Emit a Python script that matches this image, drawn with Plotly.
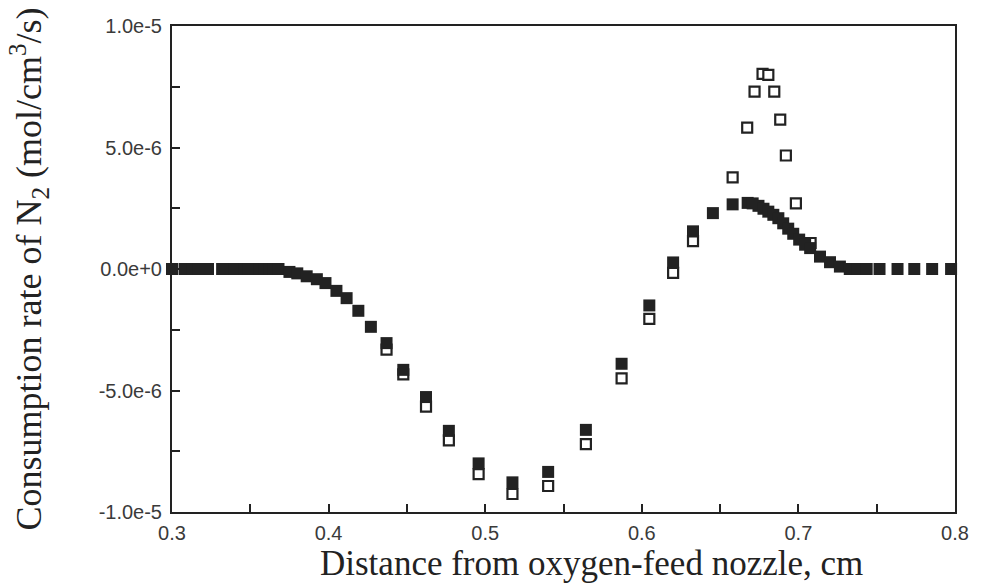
import plotly.graph_objects as go

# Filled squares series
x_filled = [0.300, 0.308, 0.313, 0.317, 0.323, 0.332, 0.336, 0.340, 0.346, 0.349,
            0.353, 0.356, 0.359, 0.362, 0.365, 0.368, 0.375, 0.380, 0.386, 0.3925,
            0.398, 0.405, 0.4115, 0.419, 0.427, 0.437, 0.4477, 0.4622, 0.4768, 0.4958,
            0.5174, 0.5402, 0.5643, 0.5871, 0.6048, 0.620, 0.6327, 0.6454, 0.658, 0.6676,
            0.6708, 0.6745, 0.6777, 0.6808, 0.684, 0.6872, 0.6903, 0.6935, 0.6967, 0.7005,
            0.7043, 0.7075, 0.7138, 0.7202, 0.7265, 0.7328, 0.7379, 0.7436, 0.7518, 0.7633,
            0.774, 0.7854, 0.7975]
y_filled_e6 = [0, 0, 0, 0, 0, 0, 0, 0, 0, 0,
               0, 0, 0, 0, 0, 0, -0.12, -0.18, -0.30, -0.42,
               -0.58, -0.90, -1.20, -1.72, -2.38, -3.05, -4.15, -5.27, -6.66, -8.0,
               -8.78, -8.35, -6.62, -3.9, -1.5, 0.27, 1.55, 2.3, 2.66, 2.72,
               2.70, 2.6, 2.48, 2.36, 2.23, 2.09, 1.88, 1.66, 1.45, 1.21,
               1.0, 0.86, 0.51, 0.28, 0.1, 0, 0, 0, 0, 0,
               0, 0, 0]

# Open squares series
x_open = [0.437, 0.4477, 0.4622, 0.4768, 0.4958, 0.5174, 0.5402, 0.5643, 0.5871, 0.6048,
          0.620, 0.6327, 0.658, 0.6673, 0.672, 0.6771, 0.6808, 0.6846, 0.6884, 0.692,
          0.6984, 0.7078]
y_open_e6 = [-3.32, -4.34, -5.66, -7.05, -8.44, -9.26, -8.93, -7.21, -4.5, -2.05,
             -0.16, 1.15, 3.77, 5.82, 7.3, 8.03, 7.99, 7.3, 6.15, 4.67,
             2.7, 1.07]

y_tickvals = [1.0e-5, 5.0e-6, 0.0, -5.0e-6, -1.0e-5]
y_ticktext = ["1.0e-5", "5.0e-6", "0.0e+0", "-5.0e-6", "-1.0e-5"]
x_tickvals = [0.3, 0.4, 0.5, 0.6, 0.7, 0.8]
x_ticktext = ["0.3", "0.4", "0.5", "0.6", "0.7", "0.8"]

x_title = "Distance from oxygen-feed nozzle, cm"
y_title = "Consumption rate of N<sub>2</sub> (mol/cm<sup>3</sup>/s)"

y_filled = [v * 1e-6 for v in y_filled_e6]
y_open = [v * 1e-6 for v in y_open_e6]

fig = go.Figure()
fig.add_trace(go.Scatter(
    x=x_open, y=y_open, mode="markers",
    marker=dict(symbol="square", size=10, color="white",
                line=dict(color="#222222", width=2.2)),
    showlegend=False, cliponaxis=False))
fig.add_trace(go.Scatter(
    x=x_filled, y=y_filled, mode="markers",
    marker=dict(symbol="square", size=12, color="#222222",
                line=dict(width=0)),
    showlegend=False, cliponaxis=False))

tickfont = dict(family="Liberation Sans, Arial, sans-serif", size=20, color="#3a3a3a")
titlefont = dict(family="Liberation Serif, Times New Roman, serif", size=36, color="#222222")
xtitlefont = dict(family="Liberation Serif, Times New Roman, serif", size=35, color="#222222")

fig.update_layout(
    width=981, height=584,
    margin=dict(l=172, r=20, t=26, b=72),
    paper_bgcolor="white", plot_bgcolor="white",
    xaxis=dict(
        range=[0.3, 0.8], tickvals=x_tickvals, ticktext=x_ticktext,
        ticks="inside", ticklen=8, tickwidth=2, tickcolor="#222222",
        minor=dict(dtick=0.05, ticks="inside", ticklen=8, tickwidth=2, tickcolor="#222222"),
        showline=True, linecolor="#222222", linewidth=2, mirror=True,
        showgrid=False, zeroline=False, tickfont=tickfont, ticklabelstandoff=2,
    ),
    yaxis=dict(
        range=[-1.0e-5, 1.0e-5], tickvals=y_tickvals, ticktext=y_ticktext,
        ticks="inside", ticklen=8, tickwidth=2, tickcolor="#222222",
        minor=dict(dtick=2.5e-6, tick0=0, ticks="inside", ticklen=8, tickwidth=2, tickcolor="#222222"),
        showline=True, linecolor="#222222", linewidth=2, mirror=True,
        showgrid=False, zeroline=False, tickfont=tickfont, ticklabelstandoff=4,
        title=dict(text=y_title, font=titlefont, standoff=46),
    ),
    annotations=[dict(
        text=x_title, xref="paper", yref="paper", x=0.536, y=-0.106,
        xanchor="center", yanchor="middle", showarrow=False, font=xtitlefont,
        borderpad=0,
    )],
)

fig.write_html("out.html")
